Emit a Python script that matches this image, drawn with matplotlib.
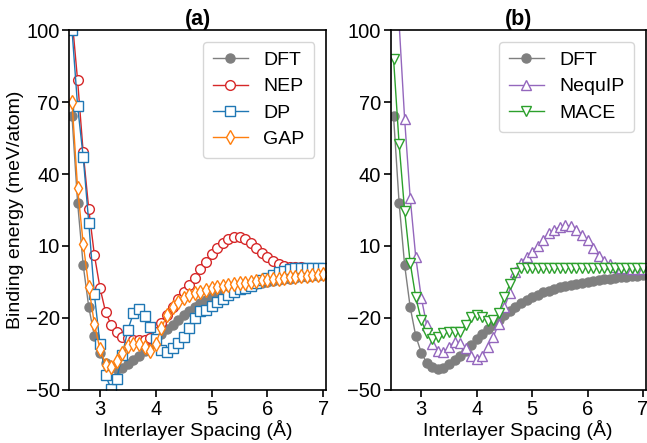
import numpy as np
import matplotlib
matplotlib.use("Agg")
from matplotlib import pyplot as plt

plt.rcParams['font.family'] = ['Liberation Sans', 'DejaVu Sans']

# interlayer spacing grid (Angstrom)
spacing = np.linspace(2.5, 7.0, 46)

# binding energies (meV/atom)
dft = [64, 28, 2, -15.5, -27.5, -34.5, -38.8, -40.5, -41.2, -40.7,
       -39.2, -37.5, -35.8, -33.6, -31.2, -28.9, -26.7, -24.7, -22.9, -20.8,
       -18.8, -17.0, -15.5, -13.9, -12.5, -11.3, -10.3, -9.4, -8.6, -7.9,
       -7.3, -6.7, -6.2, -5.7, -5.3, -4.9, -4.5, -4.2, -3.9, -3.6,
       -3.3, -3.1, -2.8, -2.6, -2.4, -2.2]
nep = [105, 79, 49, 25.3, 6.3, -7.4, -17.4, -22.9, -25.7, -27.8,
       -28.5, -29.2, -29.4, -29.2, -28.2, -26.0, -22.0, -18.8, -15.3, -12.2,
       -9.4, -6.3, -3.5, 0.4, 3.5, 6.5, 9.0, 11.4, 12.8, 13.6,
       13.6, 12.8, 11.1, 9.0, 7.2, 5.5, 3.8, 2.5, 1.7, 1.4,
       1.2, 1.1, 1.0, 1.0, 1.0, 1.0]
dp = [100, 68.3, 47.2, 19.7, -10.2, -30.7, -44.0, -49.5, -45.5, -35.4,
      -25.0, -18.0, -16.4, -19.3, -23.8, -28.9, -33.3, -34.4, -32.6, -30.5,
      -27.8, -24.3, -20.1, -17.1, -16.7, -15.0, -13.5, -12.1, -10.4, -9.0,
      -8.0, -7.4, -6.9, -5.6, -4.2, -3.5, -2.1, -0.7, -0.3, 0.3,
      0.7, 1.0, 1.0, 1.0, 1.0, 1.0]
gap = [70, 34, 11, -7, -22.5, -33, -39.5, -40.3, -37.8, -34.7,
       -31.7, -30.8, -30.8, -32.0, -34.0, -30.8, -24.3, -18.8, -15.5, -13.2,
       -11.5, -10.4, -9.7, -9.0, -8.3, -7.6, -7.0, -6.6, -6.2, -5.9,
       -5.6, -5.3, -5.0, -4.7, -4.4, -4.2, -3.9, -3.6, -3.4, -3.1,
       -2.9, -2.7, -2.4, -2.2, -2.0, -1.8]
nequip = [160, 103, 62.8, 30.1, 5.5, -11.6, -23.1, -30.8, -34.0, -34.2,
          -32.1, -29.9, -30.4, -32.6, -35.9, -37.0, -35.9, -32.0, -27.8, -22.4,
          -15.5, -9.5, -1.0, 3.0, 5.5, 7.6, 10.0, 12.5, 15.3, 16.7,
          18.0, 18.7, 18.3, 16.7, 14.6, 12.5, 9.0, 5.8, 3.8, 2.5,
          1.4, 1.0, 0.7, 0.5, 0.3, 0.2]
mace = [88, 52.5, 24.5, 3, -11.3, -21, -26.4, -28.9, -27.8, -26.5,
        -25.7, -25.7, -25.7, -22.9, -19.7, -19.0, -19.7, -21.3, -21.0, -17.9,
        -11.4, -5.8, -1.1, 0.7, 0.7, 0.7, 0.7, 0.7, 0.7, 0.7,
        0.7, 0.7, 0.7, 0.7, 0.7, 0.7, 0.7, 0.7, 0.7, 0.7,
        0.7, 0.7, 0.7, 0.7, 0.7, 0.7]

yticks = [-50, -20, 10, 40, 70, 100]
xticks = [3, 4, 5, 6, 7]

fig = plt.figure(figsize=(6.47, 4.43), dpi=100)
ax1 = fig.add_axes([0.107, 0.12, 0.397, 0.812])
ax2 = fig.add_axes([0.604, 0.12, 0.394, 0.812])

dft_style = dict(color='#7f7f7f', marker='o', ms=6.5, lw=1.0, label='DFT')
open_style = dict(ms=7, lw=1.0, mfc='white', mew=1.0)

ax1.plot(spacing, dft, **dft_style)
ax1.plot(spacing, nep, color='#d62728', marker='o', label='NEP', **open_style)
ax1.plot(spacing, dp, color='#1f77b4', marker='s', label='DP', **open_style)
ax1.plot(spacing, gap, color='#ff7f0e', marker='d', label='GAP', **open_style)

ax2.plot(spacing, dft, **dft_style)
ax2.plot(spacing, nequip, color='#9467bd', marker='^', label='NequIP', **open_style)
ax2.plot(spacing, mace, color='#2ca02c', marker='v', label='MACE', **open_style)

for ax, title in [(ax1, '(a)'), (ax2, '(b)')]:
    ax.set_xlim(2.45, 7.05)
    ax.set_ylim(-50, 100)
    ax.set_xticks(xticks)
    ax.set_yticks(yticks)
    ax.tick_params(labelsize=14.5, direction='out', length=5, width=1.2, pad=2)
    for s in ax.spines.values():
        s.set_linewidth(1.2)
    ax.set_xlabel('Interlayer Spacing (Å)', fontsize=14, labelpad=1)
    ax.set_title(title, fontsize=15.5, fontweight='bold', pad=2)
    ax.legend(loc='upper right', fontsize=14, handlelength=1.8,
              borderpad=0.5, labelspacing=0.45, handletextpad=0.8,
              borderaxespad=0.6)

ax1.set_ylabel('Binding energy (meV/atom)', fontsize=14, labelpad=1)

fig.savefig('out.png', dpi=100)
